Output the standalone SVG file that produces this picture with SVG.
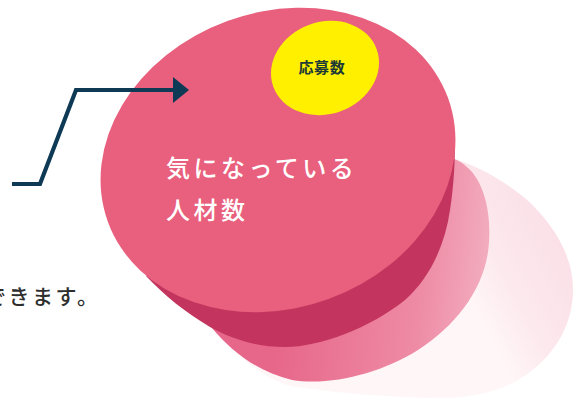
<svg xmlns="http://www.w3.org/2000/svg" width="580" height="399" viewBox="0 0 580 399">
  <defs>
    <style>
      .jp { font-family: "Noto Sans CJK JP", "Noto Sans", sans-serif; }
      .face { fill: #E8607D; }
      .side { fill: #C3355E; }
      .label-white { fill: #FFFFFF; font-size: 24px; font-weight: 500; letter-spacing: 3.5px; }
      .label-dark { fill: #1E3A36; font-size: 15px; font-weight: 700; letter-spacing: 0.6px; }
      .caption { fill: #2E2E2E; font-size: 21px; font-weight: 500; letter-spacing: 2.5px; }
      .conn { fill: none; stroke: #0E3A56; stroke-width: 4.2; stroke-linejoin: miter; }
    </style>
    <linearGradient id="gMed" gradientUnits="userSpaceOnUse" x1="280" y1="320" x2="490" y2="340">
      <stop offset="0" stop-color="#E7678A"/>
      <stop offset="0.65" stop-color="#EE8BA5"/>
      <stop offset="1" stop-color="#F3B1C2"/>
    </linearGradient>
    <linearGradient id="gLight" gradientUnits="userSpaceOnUse" x1="480" y1="320" x2="575" y2="270">
      <stop offset="0" stop-color="#FFF6F8"/>
      <stop offset="0.4" stop-color="#FCE9EE"/>
      <stop offset="1" stop-color="#FBE0E8"/>
    </linearGradient>
    <marker id="arrowHead" markerUnits="userSpaceOnUse" markerWidth="17" markerHeight="27" refX="3" refY="13" orient="auto">
      <path d="M0,0 L16,13 L0,26 Z" fill="#0E3A56"/>
    </marker>
  </defs>

  <rect x="0" y="0" width="580" height="399" fill="#FFFFFF"/>

  <g id="echo-light">
    <path d="M 452,158 C 475,165 500,178 525,198 C 555,225 574,258 573,292 C 572,330 550,362 515,382 C 490,395 460,399 430,398 C 380,397 330,392 290,386 C 265,378 240,360 220,335 L 330,250 Z" fill="url(#gLight)"/>
  </g>

  <g id="echo-medium">
    <path d="M 212,328 C 232,352 258,372 292,380 C 330,386 380,374 418,350 C 455,326 482,292 488,252 C 493,215 484,182 468,168 C 462,162 456,159 450,158 L 330,250 Z" fill="url(#gMed)"/>
  </g>

  <g id="cylinder">
    <path class="side" d="M 146,276 C 165,296 185,312 210,327 C 230,338 255,347 285,347 C 320,347 370,328 405,300 C 430,278 445,245 450,210 C 454,185 455,160 455,140 L 278,160 Z"/>
    <ellipse class="face" cx="278" cy="160" rx="181" ry="148" transform="rotate(-20 278 160)"/>
    <text class="jp label-white" x="166" y="177">気になっている</text>
    <text class="jp label-white" x="166" y="219">人材数</text>
  </g>

  <g id="applicants">
    <ellipse cx="325" cy="68" rx="55" ry="46" transform="rotate(-20 325 68)" fill="#FFF000"/>
    <text class="jp label-dark" x="298.5" y="72.5">応募数</text>
  </g>

  <g id="connectors">
    <polyline class="conn" points="12,184 40,184 76,90 176,90" marker-end="url(#arrowHead)"/>
  </g>

  <g id="caption">
    <text class="jp caption" x="-15" y="304">できます。</text>
  </g>
</svg>
